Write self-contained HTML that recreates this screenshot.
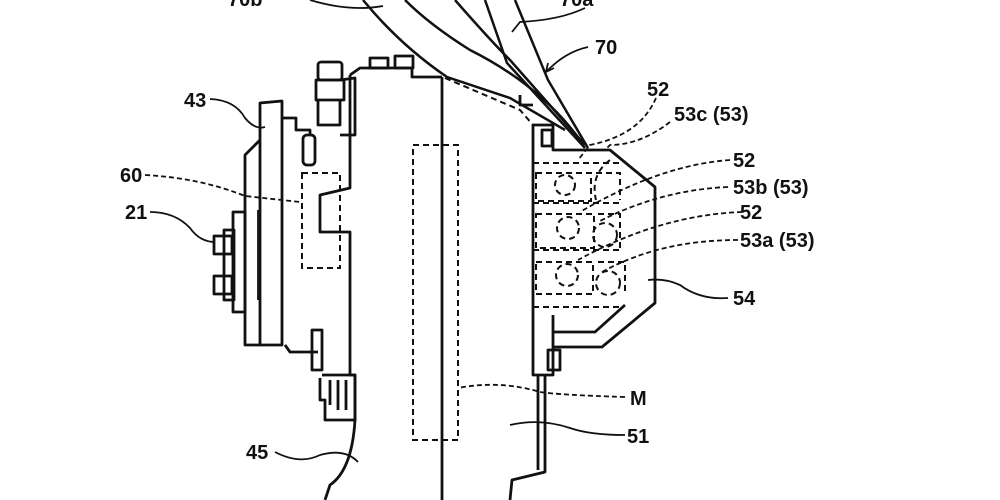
<!DOCTYPE html>
<html><head><meta charset="utf-8"><style>
html,body{margin:0;padding:0;background:#fff;}
svg{display:block;}
text{font-family:"Liberation Sans",sans-serif;font-size:20px;fill:#111;}
</style></head><body>
<svg width="1000" height="500" viewBox="0 0 1000 500" xmlns="http://www.w3.org/2000/svg">
<g fill="none" stroke="#111" stroke-width="2.8" stroke-linejoin="round">
<path d="M350,75 L360,68 L412,68 L412,77 L442,77"/>
<path d="M442,77 L442,500"/>
<path d="M350,75 L350,188 L320,195 L320,232 L350,232 L350,375 L355,375 L355,420 Q352,470 330,485 L325,500"/>
<rect x="370" y="58" width="18" height="10"/>
<rect x="395" y="56" width="18" height="12"/>
<rect x="318" y="62" width="24" height="18" rx="3"/>
<path d="M316,80 L344,80 L344,100 L316,100 Z"/>
<path d="M318,100 L318,125 L340,125 L340,100"/>
<path d="M340,80 L355,78 L355,135 L340,135"/>
<rect x="303" y="135" width="12" height="30" rx="4"/>
<path d="M260,345 L260,103 L282,101 L282,345 Z"/>
<path d="M260,140 L245,155 L245,345 L260,345"/>
<path d="M282,118 L296,118 L296,130 L310,130 L310,135"/>
<path d="M285,345 L290,352 L318,352"/>
<path d="M258,210 L258,300" stroke-width="1.8"/>
<rect x="233" y="212" width="12" height="100"/>
<rect x="214" y="236" width="18" height="18"/>
<rect x="214" y="276" width="18" height="18"/>
<rect x="224" y="230" width="10" height="70"/>
<rect x="312" y="330" width="10" height="40"/>
<path d="M322,375 L355,375 L355,420 L325,420 L325,400 L320,400 L320,378"/>
<path d="M330,380 L330,405 M338,380 L338,410 M346,380 L346,410"/>
<path d="M533,125 L553,125 L553,150 L610,150 L655,187 L655,303 L602,347 L553,347"/>
<path d="M533,125 L533,375 L553,375 L553,315"/>
<path d="M553,332 L595,332 L625,305"/>
<rect x="548" y="350" width="12" height="20"/>
<rect x="542" y="130" width="10" height="16"/>
<path d="M538,375 L538,470 M545,375 L545,472 L512,480 L510,500"/>
<path d="M520,95 L520,105 L533,105"/>
</g>
<g fill="none" stroke="#111" stroke-width="2" stroke-dasharray="6,4">
<rect x="413" y="145" width="45" height="295"/>
<rect x="302" y="173" width="38" height="95"/>
<path d="M445,78 L520,110 L533,125"/>
<path d="M533,163 L620,163 M533,203 L620,203 M533,250 L620,250 M533,307 L620,307"/>
<rect x="536" y="173" width="55" height="28"/>
<rect x="536" y="214" width="58" height="34"/>
<rect x="536" y="262" width="57" height="32"/>
<path d="M596,173 L620,173 L620,200 M598,214 L620,214 L620,248 M598,262 L625,262 L625,294"/>
<circle cx="565" cy="185" r="10"/><circle cx="568" cy="228" r="11"/><circle cx="567" cy="275" r="11"/>
<circle cx="605" cy="235" r="12"/><circle cx="608" cy="283" r="12"/>
<path d="M610,160 Q590,175 596,200"/>
</g>
<g fill="none" stroke="#111" stroke-width="2.5">
<path d="M363,0 Q400,45 447,77 L510,98 L565,130"/>
<path d="M405,0 Q430,25 470,50 Q540,85 580,140"/>
<path d="M455,0 Q490,40 510,60 L585,145"/>
<path d="M485,0 L507,63 L585,148"/>
<path d="M515,0 L548,80 L588,148"/>
</g>
<g fill="none" stroke="#111" stroke-width="1.8">
<path d="M310,0 Q350,12 383,6"/>
<path d="M585,8 Q560,20 520,22 L512,32"/>
<path d="M588,47 Q565,52 546,72"/><path d="M546,72 L548,63 M546,72 L554,68"/>
<path d="M656,98 Q640,135 590,145 L578,160" stroke-dasharray="5,3"/>
<path d="M670,122 Q640,145 610,145 L605,150" stroke-dasharray="5,3"/>
<path d="M730,160 Q660,165 580,212" stroke-dasharray="5,3"/>
<path d="M728,187 Q660,190 598,222" stroke-dasharray="5,3"/>
<path d="M742,212 Q660,215 578,260" stroke-dasharray="5,3"/>
<path d="M738,240 Q660,240 602,272" stroke-dasharray="5,3"/>
<path d="M728,298 Q700,300 680,285 Q665,278 648,280"/>
<path d="M625,397 Q560,395 540,392 Q500,380 458,388" stroke-dasharray="5,3"/>
<path d="M625,435 Q590,435 570,428 Q540,418 510,425"/>
<path d="M275,452 Q300,465 320,455 Q345,448 358,462"/>
<path d="M210,99 Q235,100 245,118 Q255,130 265,127"/>
<path d="M145,175 Q200,178 245,196 L300,202" stroke-dasharray="5,3"/>
<path d="M150,212 Q175,212 190,228 Q200,242 215,242"/>
</g>
<g font-weight="bold" style="font-stretch:condensed">
<text x="228" y="6">70b</text>
<text x="560" y="6">70a</text>
<text x="595" y="54">70</text>
<text x="647" y="96">52</text>
<text x="674" y="121">53c (53)</text>
<text x="733" y="167">52</text>
<text x="733" y="194">53b (53)</text>
<text x="740" y="219">52</text>
<text x="740" y="247">53a (53)</text>
<text x="733" y="305">54</text>
<text x="630" y="405">M</text>
<text x="627" y="443">51</text>
<text x="246" y="459">45</text>
<text x="184" y="107">43</text>
<text x="120" y="182">60</text>
<text x="125" y="219">21</text>
</g>
</svg>
</body></html>
